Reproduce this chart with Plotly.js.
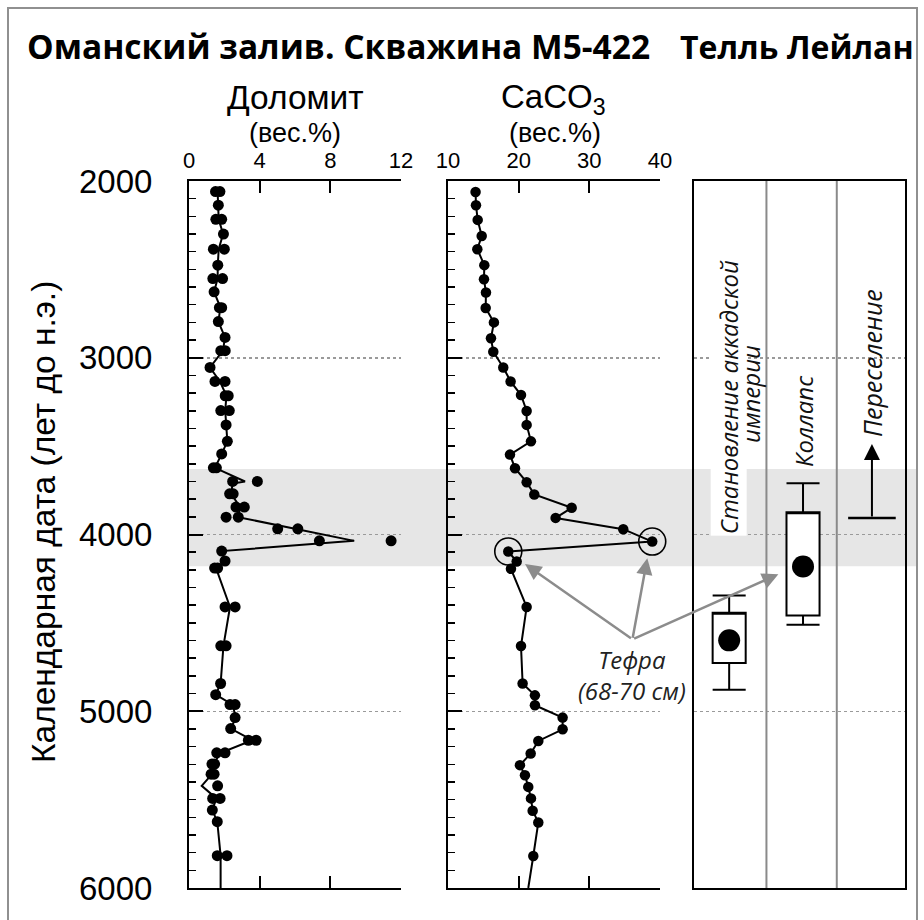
<!DOCTYPE html>
<html><head><meta charset="utf-8">
<script src="https://cdn.plot.ly/plotly-3.0.1.min.js"></script>
<style>html,body{margin:0;padding:0;background:#fff}#chart{width:924px;height:920px}</style>
</head><body><div id="chart"></div>
<script>
// ---------------- data ----------------
const yearTicks = [2000, 3000, 4000, 5000, 6000];
const dolomiteTicks = [0, 4, 8, 12];
const caco3Ticks = [10, 20, 30, 40];

// Dolomite (wt.%) - connected profile
const dolomiteLineYears  = [2060, 2137, 2217, 2300, 2386, 2476, 2552, 2627, 2717, 2795, 2885, 2960, 3055, 3134, 3215, 3299, 3380, 3473, 3544, 3623, 3700, 3712, 3770, 3845, 3902, 4036, 4094, 4150, 4190, 4410, 4630, 4843, 4906, 4962, 5036, 5098, 5164, 5235, 5299, 5356, 5422, 5493, 5559, 5625, 5817, 6000];
const dolomiteLineValues = [1.62, 1.66, 1.68, 1.93, 1.68, 1.63, 1.62, 1.42, 1.78, 1.66, 2.04, 1.92, 1.19, 1.75, 2.12, 2.05, 2.10, 2.17, 1.85, 1.47, 3.17, 2.47, 2.38, 2.90, 2.79, 9.35, 1.85, 2.04, 1.53, 2.32, 1.95, 1.79, 1.51, 2.46, 2.66, 2.36, 3.58, 1.80, 1.38, 1.30, 0.72, 1.55, 1.32, 1.60, 1.79, 1.79];
// Dolomite (wt.%) - measured samples
const dolomitePointYears  = [2060, 2060, 2137, 2217, 2217, 2300, 2386, 2386, 2476, 2552, 2552, 2627, 2717, 2717, 2795, 2885, 2960, 2960, 3055, 3134, 3134, 3215, 3215, 3299, 3299, 3380, 3473, 3544, 3623, 3623, 3700, 3700, 3770, 3770, 3845, 3845, 3902, 3902, 3968, 3968, 4036, 4036, 4094, 4150, 4190, 4190, 4410, 4410, 4630, 4630, 4843, 4906, 4962, 4962, 5036, 5098, 5164, 5164, 5235, 5235, 5299, 5299, 5356, 5356, 5422, 5493, 5493, 5559, 5625, 5817, 5817];
const dolomitePointValues = [1.50, 1.75, 1.66, 1.52, 1.85, 1.95, 1.38, 2.00, 1.63, 1.35, 1.90, 1.42, 1.72, 1.85, 1.66, 2.04, 1.80, 2.05, 1.19, 1.47, 2.04, 2.05, 2.22, 1.80, 2.28, 2.10, 2.17, 1.85, 1.38, 1.55, 2.47, 3.87, 2.30, 2.50, 2.66, 3.13, 2.10, 2.79, 5.02, 6.16, 7.38, 11.44, 1.85, 2.04, 1.45, 1.62, 2.04, 2.61, 1.80, 2.10, 1.79, 1.51, 2.32, 2.61, 2.61, 2.36, 3.36, 3.80, 1.57, 2.04, 1.30, 1.45, 1.25, 1.42, 1.62, 1.34, 1.76, 1.32, 1.60, 1.60, 2.15];

// CaCO3 (wt.%)
const caco3Years  = [2062, 2137, 2220, 2311, 2386, 2476, 2556, 2631, 2719, 2800, 2890, 2966, 3055, 3134, 3211, 3301, 3380, 3473, 3548, 3625, 3704, 3774, 3849, 3906, 3970, 4040, 4096, 4153, 4194, 4410, 4631, 4843, 4910, 4966, 5036, 5102, 5168, 5239, 5305, 5362, 5428, 5493, 5563, 5629, 5819];
const caco3Values = [13.9, 13.96, 14.2, 14.77, 14.15, 15.14, 15.09, 15.37, 15.33, 16.5, 16.08, 16.41, 17.82, 18.86, 20.33, 21.13, 21.13, 21.74, 18.77, 19.48, 21.13, 22.21, 27.5, 25.23, 34.8, 38.9, 18.53, 19.72, 18.91, 21.13, 20.33, 20.56, 22.3, 22.3, 26.22, 26.22, 22.78, 21.7, 20.18, 20.89, 21.36, 21.74, 21.98, 22.78, 22.07];
const caco3EndYear = 6000, caco3EndValue = 21.36;

// Tephra layer (68-70 cm) samples on the CaCO3 curve
const tephraYears  = [4040, 4096];
const tephraValues = [38.9, 18.53];

// Tell Leilan events (years BC)
const eventColumn = [0.5, 1.55];
const eventCenter = [4599, 4181];
const eventBoxTop = [4443, 3874];
const eventBoxBottom = [4727, 4458];
const eventWhiskerTop = [4345, 3710];
const eventWhiskerBottom = [4878, 4510];
const resettlementColumn = 2.53;
const resettlementYear = 3906;
const resettlementArrowTip = 3488;

// Grey band (dry event)
const bandFrom = 3630, bandTo = 4180;

// ---------------- layout helpers ----------------
const W = 924, H = 920;
const px = v => v / W;
const py = v => 1 - v / H;
const SANS = 'Liberation Sans, Arial, sans-serif';
const OPEN = 'Open Sans, Noto Sans, sans-serif';
const yDomain = [py(888), py(181)];

const yBase = {
  range: [6000, 2000], autorange: false, domain: yDomain,
  tickmode: 'linear', tick0: 2000, dtick: 1000,
  ticks: 'inside', ticklen: 14, tickwidth: 2, tickcolor: '#000',
  minor: {tickmode: 'linear', tick0: 2000, dtick: 100, ticks: 'inside', ticklen: 7, tickwidth: 1.5, tickcolor: '#000', showgrid: false},
  showline: true, linewidth: 2, linecolor: '#000', mirror: false,
  showgrid: true, gridcolor: '#9a9a9a', gridwidth: 1.5, griddash: 'dot',
  zeroline: false, fixedrange: true
};
const xBase = {
  side: 'top', ticks: 'inside', ticklen: 12, tickwidth: 2, tickcolor: '#000',
  showline: true, linewidth: 2, linecolor: '#000', mirror: 'ticks',
  showgrid: false, zeroline: false, fixedrange: true, tickmode: 'array',
  tickfont: {family: SANS, size: 22, color: '#000'}, ticklabelstandoff: 2
};

function paperText(text, x, y, family, size, extra) {
  return Object.assign({text: text, xref: 'paper', yref: 'paper', x: px(x), y: py(y),
    xanchor: 'center', yanchor: 'middle', showarrow: false,
    font: {family: family, size: size, color: '#000'}}, extra || {});
}

const layout = {
  width: W, height: H, autosize: false,
  margin: {l: 0, r: 0, t: 0, b: 0},
  paper_bgcolor: '#fff', plot_bgcolor: 'rgba(0,0,0,0)',
  showlegend: false,
  xaxis: Object.assign({}, xBase, {domain: [px(189), px(401)], range: [0, 12], tickvals: dolomiteTicks, anchor: 'y'}),
  xaxis2: Object.assign({}, xBase, {domain: [px(448), px(660)], range: [10, 40], tickvals: caco3Ticks, anchor: 'y2'}),
  xaxis3: {domain: [px(694), px(905)], range: [0, 3], autorange: false, anchor: 'y3', showticklabels: false, ticks: '',
           showline: true, linewidth: 2, linecolor: '#000', mirror: true, showgrid: false, zeroline: false, fixedrange: true},
  yaxis: Object.assign({}, yBase, {anchor: 'x', tickvals: yearTicks,
           tickfont: {family: SANS, size: 33, color: '#000'}, ticklabelstandoff: 28}),
  yaxis2: Object.assign({}, yBase, {anchor: 'x2', matches: 'y', showticklabels: false}),
  yaxis3: Object.assign({}, yBase, {anchor: 'x3', matches: 'y', showticklabels: false, ticks: '', minor: {ticks: ''}, mirror: true}),
  shapes: [
    {type: 'rect', xref: 'paper', yref: 'y', x0: px(189), x1: px(917), y0: bandFrom, y1: bandTo,
     fillcolor: '#e6e6e6', line: {width: 0}, layer: 'below'},
    {type: 'line', xref: 'x3', yref: 'y3', x0: 1.03, x1: 1.03, y0: 2000, y1: 6000, line: {color: '#8a8a8a', width: 2}},
    {type: 'line', xref: 'x3', yref: 'y3', x0: 2.03, x1: 2.03, y0: 2000, y1: 6000, line: {color: '#8a8a8a', width: 2}},
    {type: 'rect', xref: 'paper', yref: 'paper', x0: px(8), x1: px(917), y0: -0.05, y1: py(8),
     line: {color: '#909090', width: 2}, fillcolor: 'rgba(0,0,0,0)'}
  ],
  annotations: [
    paperText('<b>Оманский залив. Скважина М5-422</b>', 338, 46, OPEN, 33.5),
    paperText('<b>Телль Лейлан</b>', 797, 46, OPEN, 32),
    paperText('Доломит', 295, 97, SANS, 33.5),
    paperText('(вес.%)', 295, 133, SANS, 27),
    paperText('CaCO<sub>3</sub>', 553, 99, SANS, 33),
    paperText('(вес.%)', 555, 133, SANS, 27),
    paperText('Календарная дата (лет до н.э.)', 43, 522, SANS, 33.5, {textangle: -90}),
    // Tell Leilan labels
    {text: '<i>Становление аккадской</i>', xref: 'x3', yref: 'y3', x: 0.5, y: 3222, textangle: -90, showarrow: false,
     bgcolor: '#fff', font: {family: OPEN, size: 24, color: '#111'}},
    {text: '<i>империи</i>', xref: 'x3', yref: 'y3', x: 0.81, y: 3205, textangle: -90, showarrow: false,
     font: {family: OPEN, size: 24, color: '#111'}},
    {text: '<i>Коллапс</i>', xref: 'x3', yref: 'y3', x: 1.55, y: 3358, textangle: -90, showarrow: false,
     bgcolor: '#fff', font: {family: OPEN, size: 24, color: '#111'}},
    {text: '<i>Переселение</i>', xref: 'x3', yref: 'y3', x: 2.53, y: 3030, textangle: -90, showarrow: false,
     font: {family: OPEN, size: 25, color: '#111'}},
    // resettlement arrow
    {text: '', xref: 'x3', yref: 'y3', axref: 'x3', ayref: 'y3', x: resettlementColumn, y: resettlementArrowTip,
     ax: resettlementColumn, ay: resettlementYear, showarrow: true, arrowhead: 2, arrowsize: 1.6, arrowwidth: 2,
     arrowcolor: '#000', standoff: 0},
    // tephra label + arrows
    {text: '<i>Тефра<br>(68-70 см)</i>', xref: 'x2', yref: 'y2', x: 36.0, y: 4797, showarrow: false,
     font: {family: OPEN, size: 24, color: '#222'}},
    {text: '', xref: 'x2', yref: 'y2', axref: 'x2', ayref: 'y2', x: 20.9, y: 4167, ax: 36.1, ay: 4593,
     showarrow: true, arrowhead: 2, arrowsize: 1.3, arrowwidth: 2.5, arrowcolor: '#8c8c8c', standoff: 0},
    {text: '', xref: 'x2', yref: 'y2', axref: 'x2', ayref: 'y2', x: 38.2, y: 4135, ax: 36.1, ay: 4593,
     showarrow: true, arrowhead: 2, arrowsize: 1.3, arrowwidth: 2.5, arrowcolor: '#8c8c8c', standoff: 0},
    {text: '', xref: 'x3', yref: 'y3', axref: 'x3', ayref: 'y3', x: 1.2, y: 4225, ax: -0.872, ay: 4593,
     showarrow: true, arrowhead: 2, arrowsize: 1.3, arrowwidth: 2.5, arrowcolor: '#8c8c8c', standoff: 0}
  ]
};

const traces = [
  {type: 'scatter', mode: 'lines', x: dolomiteLineValues, y: dolomiteLineYears, xaxis: 'x', yaxis: 'y',
   line: {color: '#000', width: 2}, hoverinfo: 'skip', cliponaxis: false},
  {type: 'scatter', mode: 'markers', x: dolomitePointValues, y: dolomitePointYears, xaxis: 'x', yaxis: 'y',
   marker: {color: '#000', size: 11}, cliponaxis: false},
  {type: 'scatter', mode: 'lines', x: caco3Values.concat([caco3EndValue]), y: caco3Years.concat([caco3EndYear]),
   xaxis: 'x2', yaxis: 'y2', line: {color: '#000', width: 2}, hoverinfo: 'skip'},
  {type: 'scatter', mode: 'markers', x: caco3Values, y: caco3Years, xaxis: 'x2', yaxis: 'y2',
   marker: {color: '#000', size: 10.5}},
  {type: 'scatter', mode: 'markers', x: tephraValues, y: tephraYears, xaxis: 'x2', yaxis: 'y2',
   marker: {symbol: 'circle-open', size: 27, color: '#000', line: {width: 1.6, color: '#000'}}, cliponaxis: false},
  {type: 'box', x: eventColumn, q1: eventBoxTop, median: eventBoxTop, q3: eventBoxBottom,
   lowerfence: eventWhiskerTop, upperfence: eventWhiskerBottom, width: 0.47, whiskerwidth: 1,
   fillcolor: '#fff', line: {color: '#000', width: 2}, boxpoints: false, xaxis: 'x3', yaxis: 'y3', hoverinfo: 'skip'},
  {type: 'scatter', mode: 'markers', x: eventColumn, y: eventCenter, xaxis: 'x3', yaxis: 'y3',
   marker: {color: '#000', size: 22}},
  {type: 'scatter', mode: 'markers', x: [resettlementColumn], y: [resettlementYear], xaxis: 'x3', yaxis: 'y3',
   marker: {symbol: 'line-ew', size: 34, color: '#000', line: {width: 2.5, color: '#000'}}}
];

Plotly.newPlot('chart', traces, layout, {displayModeBar: false, staticPlot: true});
</script>
</body></html>
